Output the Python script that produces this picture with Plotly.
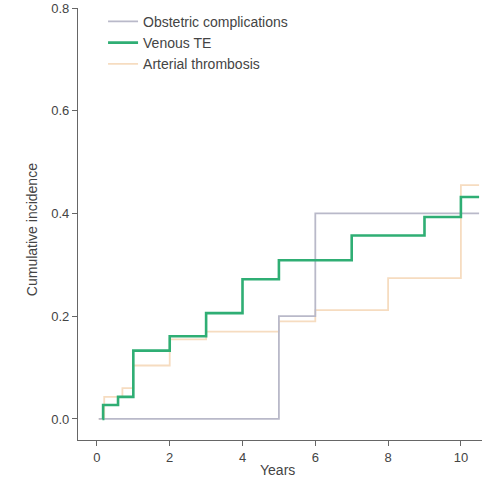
import plotly.graph_objects as go

obst_x = [0.05, 5.0, 6.0, 10.5]
obst_y = [0.0, 0.2, 0.4, 0.4]

ven_x = [0.15, 0.17, 0.58, 1.0, 2.0, 3.0, 4.0, 5.0, 7.0, 9.0, 10.0, 10.5]
ven_y = [0.0, 0.027, 0.043, 0.133, 0.161, 0.206, 0.272, 0.309, 0.357, 0.393, 0.432, 0.432]

art_x = [0.05, 0.2, 0.7, 1.0, 2.0, 3.0, 5.0, 6.0, 8.0, 10.0, 10.5]
art_y = [0.0, 0.043, 0.06, 0.104, 0.155, 0.17, 0.19, 0.212, 0.274, 0.455, 0.455]

names = ["Obstetric complications", "Venous TE", "Arterial thrombosis"]
colors = ["#b9b9c9", "#2fae74", "#f6dcc0"]
widths = [1.8, 2.6, 1.8]

x_ticks = [0, 2, 4, 6, 8, 10]
y_ticks = [0.0, 0.2, 0.4, 0.6, 0.8]

FONT = "Liberation Sans, Arial"
TXT = "#444444"

fig = go.Figure()
series = [(art_x, art_y, names[2], colors[2], widths[2], 3),
          (obst_x, obst_y, names[0], colors[0], widths[0], 1),
          (ven_x, ven_y, names[1], colors[1], widths[1], 2)]
for xs, ys, nm, c, w, rank in series:
    fig.add_trace(go.Scatter(x=xs, y=ys, mode="lines", name=nm, legendrank=rank,
                             line=dict(color=c, width=w, shape="hv")))

axis_common = dict(showline=True, linecolor="#666666", linewidth=1.2,
                   ticks="outside", ticklen=5, tickcolor="#666666",
                   showgrid=False, zeroline=False, automargin=False,
                   tickfont=dict(family=FONT, size=13, color=TXT))

fig.update_layout(
    width=493, height=479,
    margin=dict(l=78, r=11, t=8, b=39, autoexpand=False),
    plot_bgcolor="white", paper_bgcolor="white",
    font=dict(family=FONT, size=13, color=TXT),
    xaxis=dict(range=[-0.52, 10.58], tickvals=x_ticks, ticktext=[str(t) for t in x_ticks],
               **axis_common),
    yaxis=dict(range=[-0.041, 0.8], tickvals=y_ticks, ticktext=[f"{t:.1f}" for t in y_ticks],
               **axis_common),
    legend=dict(x=0.062, y=1.005, xanchor="left", yanchor="top",
                itemwidth=30, tracegroupgap=0,
                font=dict(family=FONT, size=14, color=TXT),
                bgcolor="rgba(0,0,0,0)"),
    annotations=[
        dict(text="Years", xref="paper", yref="paper", x=0.495, y=-0.069,
             xanchor="center", yanchor="middle", showarrow=False,
             font=dict(family=FONT, size=14, color=TXT)),
        dict(text="Cumulative incidence", xref="paper", yref="paper", x=-0.114, y=0.488,
             xanchor="center", yanchor="middle", showarrow=False, textangle=-90,
             font=dict(family=FONT, size=14, color=TXT)),
    ],
)

fig.write_html("out.html")
